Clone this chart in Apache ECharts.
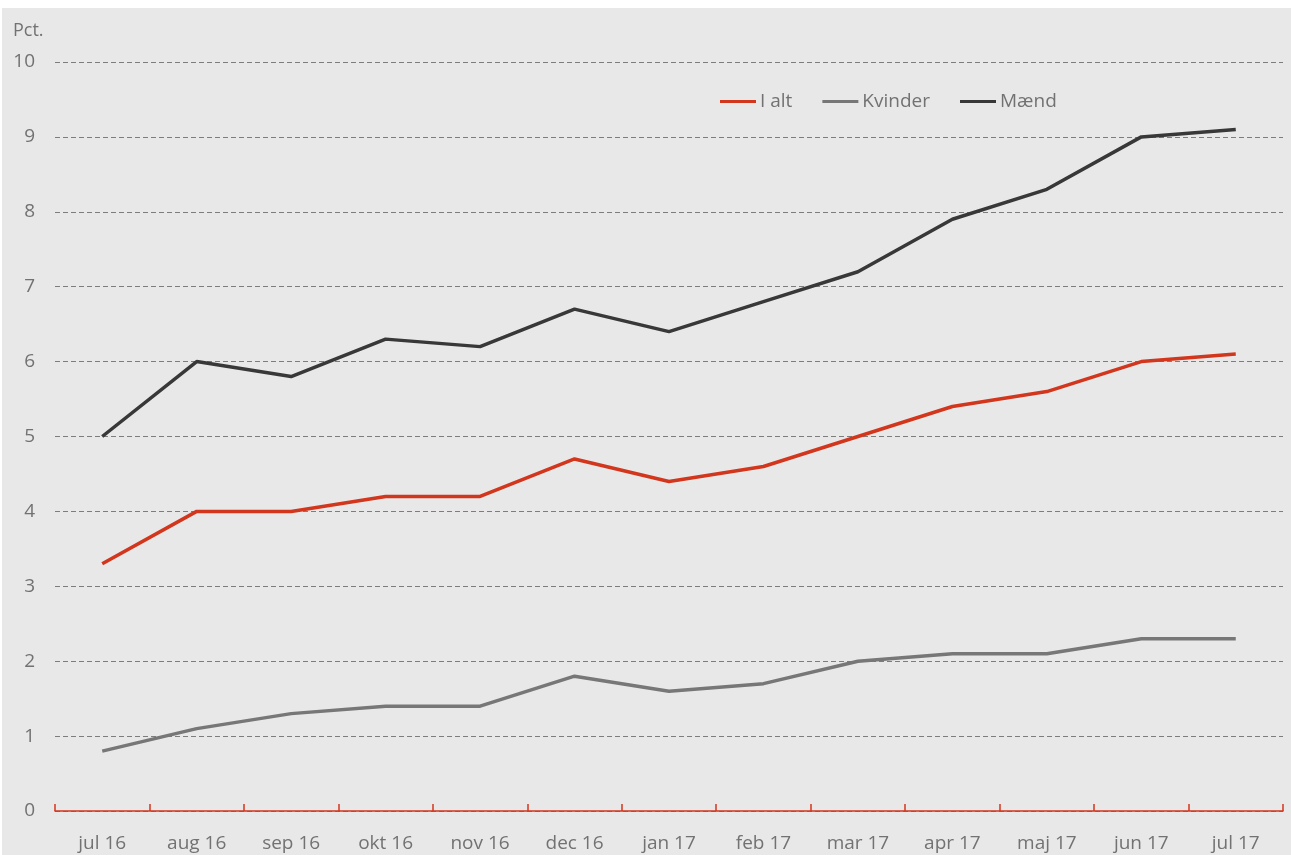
<!DOCTYPE html>
<html><head><meta charset="utf-8">
<script src="https://cdn.jsdelivr.net/npm/echarts@6/dist/echarts.min.js"></script>
<style>
html,body{margin:0;padding:0;background:#fff;width:1291px;height:855px;overflow:hidden}
#c{position:absolute;left:2px;top:8px;width:1289px;height:847px;background:#e8e8e8}
</style></head><body><div id="c"></div>
<script>
const categories = ['jul 16','aug 16','sep 16','okt 16','nov 16','dec 16','jan 17','feb 17','mar 17','apr 17','maj 17','jun 17','jul 17'];
const iAlt = [3.3, 4.0, 4.0, 4.2, 4.2, 4.7, 4.4, 4.6, 5.0, 5.4, 5.6, 6.0, 6.1];
const kvinder = [0.8, 1.1, 1.3, 1.4, 1.4, 1.8, 1.6, 1.7, 2.0, 2.1, 2.1, 2.3, 2.3];
const maend = [5.0, 6.0, 5.8, 6.3, 6.2, 6.7, 6.4, 6.8, 7.2, 7.9, 8.3, 9.0, 9.1];
const seriesNames = ['I alt','Kvinder','Mænd'];
const yAxisTitle = 'Pct.';
const colors = ['#d2361c','#777777','#383838'];
const font = '"Open Sans", "Noto Sans", sans-serif';
const txt = '#727272';
const chart = echarts.init(document.getElementById('c'), null, {renderer:'canvas'});
chart.setOption({
  backgroundColor:'#e8e8e8',
  animation:false,
  textStyle:{fontFamily:font},
  grid:{left:53, right:8, top:54, bottom:44, containLabel:false},
  graphic:[{type:'text', left:11, top:14, style:{text:yAxisTitle, fill:txt, fontSize:18, fontFamily:font}}],
  legend:{
    data:seriesNames, top:79, left:713, itemWidth:36, itemHeight:3, itemGap:30,
    icon:'rect',
    textStyle:{color:txt, fontSize:19, fontFamily:font, padding:[0,0,0,-1]}
  },
  xAxis:{
    type:'category', data:categories, boundaryGap:true,
    axisLine:{lineStyle:{color:'#d2361c', width:1.5}},
    axisTick:{show:true, length:7, inside:true, lineStyle:{color:'#d2361c', width:1.5}},
    axisLabel:{color:txt, fontSize:19, margin:23, fontFamily:font, interval:0},
    splitLine:{show:false}
  },
  yAxis:{
    type:'value', min:0, max:10, interval:1,
    axisLine:{show:false}, axisTick:{show:false},
    axisLabel:{color:txt, fontSize:19, margin:20, fontFamily:font, padding:[2,0,0,0]},
    splitLine:{show:true, lineStyle:{color:'#7d7d7d', type:[5,3], width:1}}
  },
  series:[
    {name:seriesNames[0], type:'line', data:iAlt, color:colors[0], symbol:'none', lineStyle:{width:3.5}},
    {name:seriesNames[1], type:'line', data:kvinder, color:colors[1], symbol:'none', lineStyle:{width:3.5}},
    {name:seriesNames[2], type:'line', data:maend, color:colors[2], symbol:'none', lineStyle:{width:3.5}}
  ]
});
</script></body></html>
